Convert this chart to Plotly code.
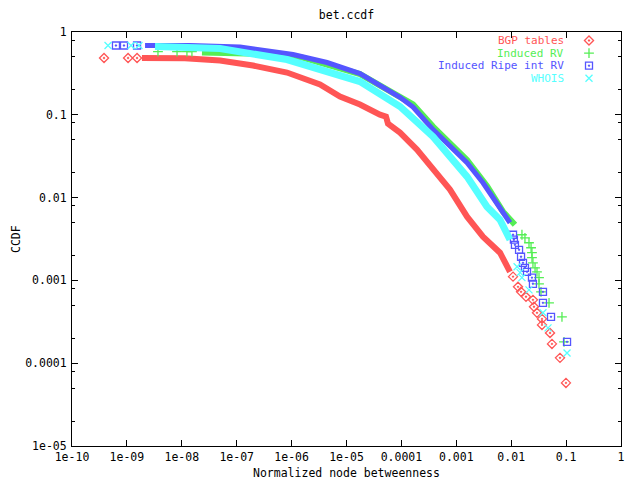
import plotly.graph_objects as go

# ---------------- data ----------------
series_names = ["BGP tables", "Induced RV", "Induced Ripe int RV", "WHOIS"]
series_colors = ["#ff5555", "#55ee55", "#5555ff", "#55ffff"]
series_symbols = ["diamond-open-dot", "cross-thin-open", "square-open-dot", "x-thin-open"]

# BGP tables
bgp_dense_x = [1.88e-9, 1.14e-8, 4.97e-8, 1.98e-7, 8.24e-7, 3.29e-6, 7.62e-6, 1.76e-5, 4.07e-5,
               5.24e-5, 5.70e-5, 9.42e-5, 1.92e-4, 3.77e-4, 7.67e-4, 1.57e-3, 3.06e-3, 6.25e-3, 9.51e-3]
bgp_dense_y = [0.485, 0.482, 0.452, 0.394, 0.324, 0.232, 0.166, 0.133, 0.1005,
               0.0951, 0.0783, 0.0609, 0.0380, 0.0217, 0.0125, 0.00588, 0.00337, 0.00216, 0.00127]
bgp_pts_x = [3.83e-10, 1.05e-9, 1.53e-9, 1.08e-2, 1.33e-2, 1.51e-2, 1.86e-2, 2.49e-2, 2.60e-2,
             2.95e-2, 3.64e-2, 3.64e-2, 5.09e-2, 5.53e-2, 7.74e-2, 9.95e-2]
bgp_pts_y = [0.485, 0.485, 0.485, 1.11e-3, 8.37e-4, 7.28e-4, 6.34e-4, 5.82e-4, 4.80e-4,
             4.06e-4, 3.43e-4, 2.90e-4, 2.32e-4, 1.71e-4, 1.16e-4, 5.78e-5]

# Induced RV
irv_dense_x = [2.33e-8, 1.54e-7, 1.42e-6, 1.76e-5, 1.63e-4, 3.77e-4, 1.57e-3, 3.62e-3, 7.10e-3, 1.17e-2]
irv_dense_y = [0.565, 0.550, 0.50, 0.31, 0.134, 0.072, 0.0285, 0.0138, 0.00676, 0.00470]
irv_pts_x = [3.68e-9, 8.19e-9, 1.24e-8, 1.53e-8, 1.57e-2, 1.78e-2, 2.11e-2, 2.30e-2, 2.39e-2,
             2.39e-2, 2.49e-2, 2.72e-2, 2.95e-2, 3.21e-2, 3.21e-2, 3.49e-2, 4.89e-2, 8.41e-2, 9.16e-2]
irv_pts_y = [0.581, 0.581, 0.581, 0.581, 3.56e-3, 3.27e-3, 2.85e-3, 2.48e-3, 2.16e-3,
             1.88e-3, 1.63e-3, 1.42e-3, 1.27e-3, 1.08e-3, 9.1e-4, 7.28e-4, 5.36e-4, 3.63e-4, 1.81e-4]

# Induced Ripe int RV
ripe_dense_x = [2.14e-9, 1.41e-8, 1.15e-7, 1.06e-6, 4.42e-6, 1.76e-5, 9.42e-5, 1.63e-4, 3.77e-4,
                7.67e-4, 1.57e-3, 3.06e-3, 6.25e-3, 9.51e-3]
ripe_dense_y = [0.687, 0.687, 0.66, 0.535, 0.428, 0.315, 0.163, 0.124, 0.0662,
                0.0412, 0.0264, 0.0151, 0.00776, 0.00497]
ripe_pts_x = [6.32e-10, 8.85e-10, 1.53e-9, 1.08e-2, 1.12e-2, 1.17e-2, 1.39e-2, 1.51e-2, 1.64e-2,
              1.78e-2, 1.94e-2, 2.39e-2, 2.49e-2, 3.79e-2, 3.79e-2, 5.31e-2, 0.104]
ripe_pts_y = [0.687, 0.687, 0.687, 3.56e-3, 3.10e-3, 2.69e-3, 2.34e-3, 1.93e-3, 1.63e-3,
              1.42e-3, 1.27e-3, 1.08e-3, 9.1e-4, 7.28e-4, 5.36e-4, 3.63e-4, 1.81e-4]

# WHOIS
whois_dense_x = [3.25e-9, 4.97e-8, 8.24e-7, 1.76e-5, 9.42e-5, 3.77e-4, 1.57e-3, 3.62e-3, 6.25e-3, 9.51e-3]
whois_dense_y = [0.668, 0.632, 0.465, 0.252, 0.126, 0.0545, 0.0179, 0.00776, 0.00540, 0.00310]
whois_pts_x = [4.53e-10, 1.19e-9, 1.66e-9, 1.28e-2, 1.45e-2, 1.57e-2, 2.11e-2, 3.79e-2, 4.68e-2, 0.104]
whois_pts_y = [0.687, 0.687, 0.687, 1.46e-3, 1.24e-3, 1.08e-3, 7.69e-4, 4.06e-4, 2.67e-4, 1.33e-4]

x_tickvals = [1e-10, 1e-9, 1e-8, 1e-7, 1e-6, 1e-5, 1e-4, 1e-3, 1e-2, 1e-1, 1]
x_ticktext = ["1e-10", "1e-09", "1e-08", "1e-07", "1e-06", "1e-05", "0.0001", "0.001", "0.01", "0.1", "1"]
y_tickvals = [1e-5, 1e-4, 1e-3, 1e-2, 1e-1, 1]
y_ticktext = ["1e-05", "0.0001", "0.001", "0.01", "0.1", "1"]
y_minor = [m * 10 ** e for e in range(-5, 0) for m in (2, 5, 8)]

# ---------------- figure ----------------
FONT = "DejaVu Sans Mono"
OFF = 8                      # default page margin of the html body
W, H = 640 - OFF, 480 - OFF  # figure size so that the page shows exactly 640x480
# plot area in page pixels: x 72..621, y 32..446
L, R, T, B = 72 - OFF, 640 - 621, 32 - OFF, 480 - 446
plot_w = W - L - R
plot_h = H - T - B

fig = go.Figure()
dense = [(bgp_dense_x, bgp_dense_y), (irv_dense_x, irv_dense_y),
         (ripe_dense_x, ripe_dense_y), (whois_dense_x, whois_dense_y)]
pts = [(bgp_pts_x, bgp_pts_y), (irv_pts_x, irv_pts_y),
       (ripe_pts_x, ripe_pts_y), (whois_pts_x, whois_pts_y)]
widths = [6, 6, 5, 7]

for i in range(4):
    c = series_colors[i]
    fig.add_trace(go.Scatter(x=dense[i][0], y=dense[i][1], mode="lines",
                             line=dict(color=c, width=widths[i]), showlegend=False, hoverinfo="skip"))
    fig.add_trace(go.Scatter(x=pts[i][0], y=pts[i][1], mode="markers", name=series_names[i],
                             marker=dict(symbol=series_symbols[i], size=7, color=c,
                                         line=dict(color=c, width=1.3)),
                             showlegend=False))

# gnuplot-style key: right-aligned coloured text with sample marker to its right
key_px = [40.5, 53.1, 65.7, 78.3]          # page pixel rows
key_rows = [1 - (p - 32) / plot_h for p in key_px]
for i in range(4):
    fig.add_annotation(x=(565 - 72) / plot_w, y=key_rows[i], xref="paper", yref="paper",
                       text=series_names[i], showarrow=False, xanchor="right", yanchor="middle",
                       borderpad=0, font=dict(family=FONT, size=11, color=series_colors[i]))
    fig.add_trace(go.Scatter(x=[(589 - 72) / plot_w], y=[key_rows[i]], xaxis="x2", yaxis="y2",
                             mode="markers",
                             marker=dict(symbol=series_symbols[i], size=7, color=series_colors[i],
                                         line=dict(color=series_colors[i], width=1.3)),
                             showlegend=False, hoverinfo="skip"))

# axis titles
fig.add_annotation(x=0.5, y=-(473 - 446) / plot_h, xref="paper", yref="paper",
                   text="Normalized node betweenness", showarrow=False,
                   xanchor="center", yanchor="middle", font=dict(family=FONT, size=11.5, color="black"))
fig.add_annotation(x=-(72 - 16) / plot_w, y=0.5, xref="paper", yref="paper",
                   text="CCDF", showarrow=False, textangle=-90,
                   xanchor="center", yanchor="middle", font=dict(family=FONT, size=11.5, color="black"))

fig.update_layout(
    width=W, height=H,
    margin=dict(l=L, r=R, t=T, b=B),
    paper_bgcolor="white", plot_bgcolor="white",
    font=dict(family=FONT, size=11.5, color="black"),
    showlegend=False,
    title=dict(text="bet.ccdf", x=(346.5 - OFF) / W, xanchor="center", y=1 - (15 - OFF) / H,
               yanchor="middle", font=dict(family=FONT, size=11.5, color="black")),
    xaxis=dict(type="log", range=[-10, 0], tickvals=x_tickvals, ticktext=x_ticktext,
               ticks="inside", ticklen=6, tickcolor="black", showline=True, linecolor="black",
               linewidth=1, mirror="ticks", showgrid=False, zeroline=False, automargin=False),
    yaxis=dict(type="log", range=[-5, 0], tickvals=y_tickvals, ticktext=y_ticktext,
               ticks="inside", ticklen=6, tickcolor="black", showline=True, linecolor="black",
               linewidth=1, mirror="ticks", showgrid=False, zeroline=False, automargin=False,
               ticklabelstandoff=2,
               minor=dict(tickvals=y_minor, ticks="inside", ticklen=3, tickcolor="black", showgrid=False)),
    xaxis2=dict(overlaying="x", anchor="y2", range=[0, 1], visible=False),
    yaxis2=dict(overlaying="y", anchor="x2", range=[0, 1], visible=False),
)

fig.write_html("out.html")
